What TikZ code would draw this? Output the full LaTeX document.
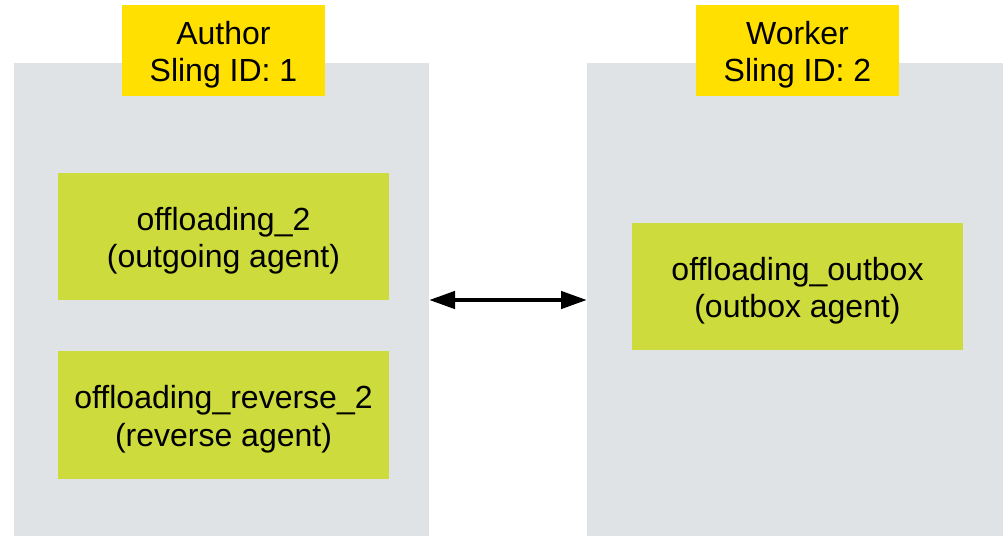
\documentclass[tikz,border=0pt]{standalone}
\usepackage{fontspec}
\setmainfont{Liberation Sans}
\usetikzlibrary{arrows.meta}
\definecolor{panelgrey}{RGB}{224,227,230}
\definecolor{tagyellow}{RGB}{255,224,0}
\definecolor{agentgreen}{RGB}{205,219,60}
\newcommand{\twolines}[2]{\raisebox{-5pt}[\height][\depth]{\begin{tabular}{@{}c@{}}#1\\#2\end{tabular}}}
\begin{document}
\begin{tikzpicture}[x=1pt,y=-1pt,
  box/.style={rectangle,inner sep=0pt,outer sep=0pt,anchor=north west,
    font=\fontsize{32}{37.5}\selectfont},
  panel/.style={box,fill=panelgrey},
  tag/.style={box,fill=tagyellow},
  agent/.style={box,fill=agentgreen},
  link/.style={line width=4.5pt,{Triangle[length=26pt,width=17pt]}-{Triangle[length=26pt,width=17pt]}}]
\useasboundingbox (0,0) rectangle (1003,536);
\node[panel,minimum width=415pt,minimum height=473pt] (authorbox) at (14,63) {};
\node[panel,minimum width=416pt,minimum height=473pt] (workerbox) at (587,63) {};
\node[tag,minimum width=203pt,minimum height=91pt] (authortag) at (122,5) {\twolines{Author}{Sling ID: 1}};
\node[tag,minimum width=203pt,minimum height=91pt] (workertag) at (696,5) {\twolines{Worker}{Sling ID: 2}};
\node[agent,minimum width=331pt,minimum height=127pt] (outgoing) at (58,173) {\twolines{offloading\_2}{(outgoing agent)}};
\node[agent,minimum width=331pt,minimum height=128pt] (reverse) at (58,351) {\twolines{offloading\_reverse\_2}{(reverse agent)}};
\node[agent,minimum width=331pt,minimum height=127pt] (outbox) at (632,223) {\twolines{offloading\_outbox}{(outbox agent)}};
\coordinate (arrowlevel) at (0,300);
\draw[link] (authorbox.east |- arrowlevel) -- (workerbox.west |- arrowlevel);
\end{tikzpicture}
\end{document}
